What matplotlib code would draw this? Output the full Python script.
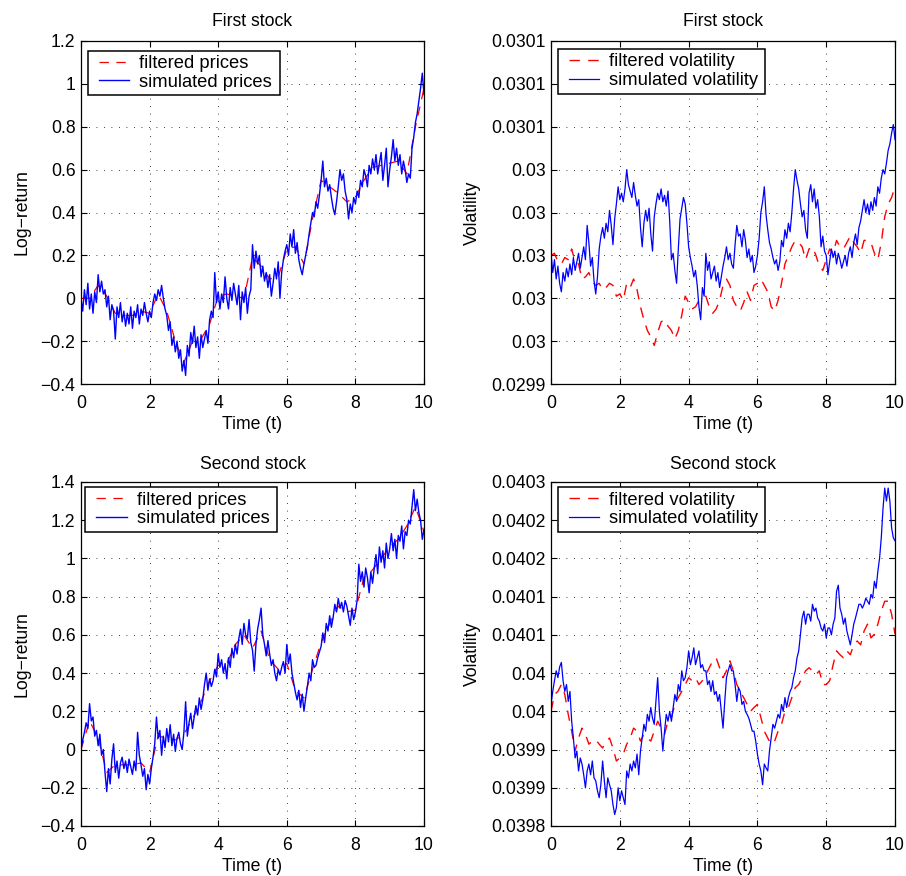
### Filtered vs simulated log-returns and volatility for two stocks
###

import numpy as np
import matplotlib
matplotlib.use("Agg")
import matplotlib.pyplot as plt
from matplotlib.lines import Line2D
from matplotlib.legend_handler import HandlerLine2D

plt.rcParams['font.family'] = ['Liberation Sans', 'DejaVu Sans']
plt.rcParams['font.size'] = 12.7

# ---- data ----
# simulated paths sampled every 0.05, filtered every 0.25 (prices) / 0.1 (volatility)
price1_sim = [
    0.00, -0.06, 0.04, -0.03, 0.07, -0.05, 0.02, -0.07, 0.03, -0.02,
    0.11, 0.03, 0.08, 0.02, 0.04, -0.04, 0.01, -0.10, -0.03, -0.06,
    -0.19, -0.04, -0.09, -0.02, -0.11, -0.06, -0.13, -0.07, -0.12, -0.04,
    -0.14, -0.06, -0.09, -0.03, -0.12, -0.05, -0.08, -0.02, -0.07, -0.11,
    -0.06, -0.09, -0.02, 0.02, -0.01, 0.04, 0.01, 0.06, 0.00, -0.05,
    -0.08, -0.15, -0.11, -0.22, -0.18, -0.25, -0.20, -0.28, -0.24, -0.34,
    -0.29, -0.36, -0.22, -0.27, -0.16, -0.21, -0.13, -0.23, -0.18, -0.28,
    -0.17, -0.23, -0.19, -0.15, -0.21, -0.10, -0.06, -0.09, 0.12, -0.02,
    0.03, -0.05, 0.02, -0.02, 0.10, 0.00, -0.05, 0.05, -0.01, 0.07,
    0.02, -0.03, 0.06, -0.10, 0.03, -0.02, 0.05, -0.07, 0.01, 0.04,
    0.25, 0.14, 0.22, 0.16, 0.20, 0.10, 0.15, 0.08, 0.12, 0.05,
    0.11, 0.01, 0.07, 0.14, 0.09, 0.17, 0.00, 0.12, 0.18, 0.22,
    0.25, 0.20, 0.30, 0.24, 0.32, 0.21, 0.26, 0.18, 0.14, 0.11,
    0.16, 0.20, 0.24, 0.30, 0.35, 0.40, 0.38, 0.45, 0.42, 0.48,
    0.55, 0.64, 0.52, 0.56, 0.50, 0.53, 0.47, 0.42, 0.39, 0.45,
    0.52, 0.60, 0.55, 0.58, 0.50, 0.46, 0.37, 0.44, 0.40, 0.47,
    0.44, 0.50, 0.47, 0.55, 0.52, 0.60, 0.57, 0.52, 0.62, 0.58,
    0.65, 0.60, 0.67, 0.58, 0.63, 0.68, 0.55, 0.62, 0.70, 0.52,
    0.60, 0.66, 0.74, 0.64, 0.70, 0.62, 0.67, 0.58, 0.64, 0.60,
    0.54, 0.58, 0.56, 0.70, 0.75, 0.82, 0.86, 0.92, 0.98, 1.05,
    0.95,
]
price1_filt = [
    0.00, 0.00, 0.06, 0.01, -0.07, -0.08, -0.08, -0.06, -0.07, 0.02,
    -0.06, -0.20, -0.30, -0.20, -0.19, -0.12, 0.01, 0.02, 0.01, 0.00,
    0.19, 0.15, 0.09, 0.10, 0.23, 0.24, 0.16, 0.37, 0.55, 0.52,
    0.49, 0.45, 0.47, 0.55, 0.61, 0.62, 0.63, 0.64, 0.58, 0.80,
    0.98,
]

price2_sim = [
    0.00, 0.05, 0.09, 0.14, 0.11, 0.24, 0.15, 0.17, 0.07, 0.10,
    0.02, 0.08, -0.03, 0.00, -0.12, -0.22, -0.10, -0.18, -0.05, 0.03,
    -0.12, -0.06, -0.15, -0.07, -0.04, -0.10, -0.06, -0.12, -0.05, -0.09,
    -0.13, -0.06, -0.11, 0.09, -0.03, -0.08, -0.14, -0.10, -0.21, -0.13,
    -0.18, -0.10, -0.04, 0.03, 0.17, 0.06, 0.10, -0.03, 0.07, 0.01,
    0.11, 0.04, 0.13, 0.02, 0.08, -0.01, 0.06, 0.09, 0.03, 0.00,
    0.09, 0.25, 0.07, 0.14, 0.19, 0.11, 0.17, 0.23, 0.18, 0.27,
    0.21, 0.26, 0.34, 0.40, 0.31, 0.37, 0.33, 0.36, 0.42, 0.38,
    0.50, 0.43, 0.47, 0.40, 0.45, 0.37, 0.48, 0.43, 0.53, 0.48,
    0.55, 0.50, 0.58, 0.63, 0.55, 0.66, 0.60, 0.58, 0.68, 0.56,
    0.52, 0.41, 0.55, 0.63, 0.68, 0.74, 0.60, 0.55, 0.49, 0.57,
    0.50, 0.44, 0.47, 0.40, 0.36, 0.42, 0.39, 0.43, 0.46, 0.40,
    0.55, 0.45, 0.50, 0.40, 0.35, 0.30, 0.26, 0.31, 0.22, 0.29,
    0.20, 0.27, 0.33, 0.40, 0.36, 0.47, 0.43, 0.44, 0.48, 0.51,
    0.54, 0.61, 0.56, 0.66, 0.62, 0.70, 0.64, 0.69, 0.76, 0.72,
    0.79, 0.74, 0.77, 0.72, 0.78, 0.75, 0.70, 0.65, 0.74, 0.68,
    0.72, 0.78, 0.97, 0.88, 0.93, 0.85, 0.95, 0.90, 0.82, 0.93,
    0.87, 0.95, 1.02, 0.92, 1.06, 0.98, 1.04, 0.95, 1.08, 1.00,
    1.05, 1.13, 1.04, 1.10, 1.00, 1.12, 1.09, 1.17, 1.05, 1.14,
    1.12, 1.20, 1.18, 1.27, 1.36, 1.25, 1.31, 1.24, 1.20, 1.10,
    1.15,
]
price2_filt = [
    0.00, 0.15, 0.06, -0.12, -0.08, -0.08, -0.08, -0.07, -0.12, 0.07,
    0.06, 0.05, 0.08, 0.16, 0.25, 0.36, 0.44, 0.45, 0.55, 0.60,
    0.53, 0.62, 0.47, 0.42, 0.45, 0.31, 0.27, 0.42, 0.56, 0.66,
    0.75, 0.72, 0.73, 0.90, 0.94, 1.00, 1.06, 1.10, 1.17, 1.27,
    1.14,
]

vol1_sim = [
    0.030001, 0.029992, 0.029998, 0.029989, 0.029995, 0.029987, 0.029983, 0.029992, 0.029988, 0.029994,
    0.029990, 0.029996, 0.029991, 0.029999, 0.029993, 0.029997, 0.030001, 0.029994, 0.029999, 0.030004,
    0.029998, 0.030014, 0.030006, 0.029995, 0.029999, 0.029988, 0.029982, 0.029990, 0.030003, 0.030009,
    0.030013, 0.030008, 0.030015, 0.030011, 0.030021, 0.030014, 0.030005, 0.030017, 0.030024, 0.030032,
    0.030026, 0.030029, 0.030025, 0.030031, 0.030040, 0.030033, 0.030030, 0.030027, 0.030034, 0.030028,
    0.030023, 0.030026, 0.030013, 0.030004, 0.030015, 0.030021, 0.030016, 0.030022, 0.030010, 0.030002,
    0.030018, 0.030024, 0.030029, 0.030026, 0.030031, 0.030025, 0.030028, 0.030023, 0.030030, 0.030016,
    0.029998, 0.030001, 0.029993, 0.029987, 0.030003, 0.030017, 0.030022, 0.030027, 0.030024, 0.030015,
    0.030004, 0.029999, 0.029995, 0.029990, 0.029993, 0.029986, 0.029976, 0.029970, 0.029985, 0.029981,
    0.030001, 0.029993, 0.029997, 0.029989, 0.029992, 0.029995, 0.029988, 0.029992, 0.029985, 0.029990,
    0.029995, 0.029999, 0.030004, 0.029998, 0.030001, 0.029996, 0.029994, 0.030005, 0.030014, 0.030009,
    0.030010, 0.030004, 0.030012, 0.030007, 0.029999, 0.030003, 0.029997, 0.030000, 0.029992, 0.029995,
    0.030000, 0.030008, 0.030020, 0.030025, 0.030032, 0.030019, 0.030012, 0.030006, 0.030003, 0.029999,
    0.029996, 0.029998, 0.029993, 0.029997, 0.030007, 0.030004, 0.030012, 0.030008, 0.030015, 0.030011,
    0.030020, 0.030031, 0.030040, 0.030035, 0.030031, 0.030024, 0.030018, 0.030021, 0.030012, 0.030008,
    0.030029, 0.030033, 0.030025, 0.030031, 0.030022, 0.030026, 0.030018, 0.030004, 0.030009, 0.030002,
    0.030000, 0.029991, 0.029997, 0.030003, 0.029999, 0.030002, 0.029996, 0.030001, 0.029998, 0.029994,
    0.029997, 0.030000, 0.029995, 0.030001, 0.030004, 0.029999, 0.030006, 0.030010, 0.030005, 0.030013,
    0.030016, 0.030021, 0.030026, 0.030020, 0.030024, 0.030019, 0.030025, 0.030021, 0.030027, 0.030023,
    0.030032, 0.030029, 0.030036, 0.030040, 0.030038, 0.030043, 0.030049, 0.030052, 0.030057, 0.030061,
    0.030054,
]
vol1_filt = [
    0.030000, 0.030001, 0.029997, 0.029996, 0.029999, 0.029998, 0.030003, 0.029997, 0.029996, 0.029989,
    0.029990, 0.029992, 0.029988, 0.029986, 0.029987, 0.029984, 0.029985, 0.029987, 0.029986, 0.029981,
    0.029982, 0.029979, 0.029987, 0.029985, 0.029989, 0.029984, 0.029976, 0.029970, 0.029965, 0.029962,
    0.029958, 0.029964, 0.029969, 0.029970, 0.029967, 0.029965, 0.029961, 0.029965, 0.029972, 0.029981,
    0.029978, 0.029975, 0.029976, 0.029979, 0.029980, 0.029981, 0.029976, 0.029973, 0.029975, 0.029979,
    0.029986, 0.029989, 0.029986, 0.029979, 0.029976, 0.029974, 0.029978, 0.029983, 0.029979, 0.029986,
    0.029987, 0.029989, 0.029986, 0.029983, 0.029976, 0.029974, 0.029979, 0.029987, 0.029996, 0.030000,
    0.030004, 0.030007, 0.030006, 0.030004, 0.029998, 0.030003, 0.030004, 0.030000, 0.029995, 0.029993,
    0.029998, 0.030003, 0.030001, 0.030007, 0.030004, 0.030003, 0.030006, 0.030009, 0.030006, 0.030004,
    0.030001, 0.030007, 0.030007, 0.030006, 0.030001, 0.029998, 0.030006, 0.030018, 0.030024, 0.030027,
    0.030032,
]

vol2_sim = [
    0.039959, 0.039976, 0.039990, 0.040003, 0.039994, 0.040008, 0.040014, 0.039990, 0.039976, 0.039985,
    0.039963, 0.039976, 0.039937, 0.039915, 0.039889, 0.039898, 0.039872, 0.039889, 0.039881, 0.039867,
    0.039850, 0.039872, 0.039881, 0.039867, 0.039885, 0.039863, 0.039859, 0.039846, 0.039837, 0.039855,
    0.039885, 0.039859, 0.039837, 0.039863, 0.039854, 0.039846, 0.039828, 0.039815, 0.039824, 0.039850,
    0.039833, 0.039846, 0.039837, 0.039828, 0.039872, 0.039863, 0.039881, 0.039872, 0.039885, 0.039876,
    0.039894, 0.039867, 0.039898, 0.039915, 0.039933, 0.039924, 0.039946, 0.039937, 0.039955, 0.039941,
    0.039933, 0.039963, 0.039994, 0.039950, 0.039928, 0.039898, 0.039924, 0.039946, 0.039937, 0.039950,
    0.039937, 0.039955, 0.039972, 0.039963, 0.039985, 0.039976, 0.040003, 0.039990, 0.039994, 0.040007,
    0.040029, 0.040011, 0.040020, 0.040033, 0.040011, 0.040020, 0.040029, 0.040007, 0.040011, 0.040003,
    0.040003, 0.039985, 0.039990, 0.039976, 0.039990, 0.039972, 0.039976, 0.039963, 0.039972, 0.039950,
    0.039928, 0.039963, 0.039994, 0.040003, 0.040011, 0.040003, 0.040003, 0.039985, 0.039963, 0.039981,
    0.039976, 0.039959, 0.039963, 0.039950, 0.039946, 0.039941, 0.039933, 0.039924, 0.039924, 0.039911,
    0.039894, 0.039881, 0.039872, 0.039854, 0.039881, 0.039876, 0.039872, 0.039898, 0.039915, 0.039933,
    0.039928, 0.039937, 0.039946, 0.039941, 0.039959, 0.039950, 0.039968, 0.039955, 0.039968, 0.039976,
    0.039981, 0.039994, 0.040003, 0.040020, 0.040029, 0.040050, 0.040072, 0.040081, 0.040064, 0.040077,
    0.040077, 0.040068, 0.040090, 0.040081, 0.040085, 0.040072, 0.040068, 0.040059, 0.040055, 0.040064,
    0.040046, 0.040059, 0.040059, 0.040050, 0.040064, 0.040072, 0.040107, 0.040115, 0.040085, 0.040077,
    0.040064, 0.040072, 0.040055, 0.040046, 0.040037, 0.040050, 0.040064, 0.040072, 0.040081, 0.040090,
    0.040090, 0.040085, 0.040090, 0.040098, 0.040094, 0.040090, 0.040103, 0.040098, 0.040120, 0.040111,
    0.040133, 0.040150, 0.040177, 0.040215, 0.040242, 0.040225, 0.040242, 0.040225, 0.040190, 0.040177,
    0.040173,
]
vol2_filt = [
    0.039950, 0.039972, 0.039976, 0.039985, 0.039972, 0.039946, 0.039924, 0.039898, 0.039915, 0.039928,
    0.039920, 0.039907, 0.039911, 0.039913, 0.039907, 0.039902, 0.039911, 0.039915, 0.039902, 0.039885,
    0.039889, 0.039894, 0.039907, 0.039915, 0.039928, 0.039924, 0.039911, 0.039920, 0.039915, 0.039911,
    0.039924, 0.039937, 0.039928, 0.039920, 0.039937, 0.039942, 0.039959, 0.039968, 0.039976, 0.039985,
    0.039994, 0.039990, 0.039994, 0.039985, 0.039990, 0.039998, 0.040007, 0.040016, 0.040020, 0.040007,
    0.039994, 0.040003, 0.040016, 0.040003, 0.039985, 0.039976, 0.039968, 0.039959, 0.039950, 0.039955,
    0.039959, 0.039942, 0.039924, 0.039915, 0.039907, 0.039911, 0.039924, 0.039933, 0.039950, 0.039955,
    0.039968, 0.039981, 0.039985, 0.039994, 0.040003, 0.040007, 0.040003, 0.039998, 0.040003, 0.039985,
    0.039985, 0.039990, 0.040011, 0.040029, 0.040024, 0.040020, 0.040029, 0.040024, 0.040037, 0.040042,
    0.040037, 0.040055, 0.040064, 0.040046, 0.040051, 0.040064, 0.040081, 0.040094, 0.040094, 0.040077,
    0.040051,
]

x_ticks = [0, 2, 4, 6, 8, 10]
x_ticklabels = ['0', '2', '4', '6', '8', '10']
price1_yticks = [-0.4, -0.2, 0, 0.2, 0.4, 0.6, 0.8, 1.0, 1.2]
price1_ylabels = ['\u22120.4', '\u22120.2', '0', '0.2', '0.4', '0.6', '0.8', '1', '1.2']
price2_yticks = [-0.4, -0.2, 0, 0.2, 0.4, 0.6, 0.8, 1.0, 1.2, 1.4]
price2_ylabels = ['\u22120.4', '\u22120.2', '0', '0.2', '0.4', '0.6', '0.8', '1', '1.2', '1.4']
vol1_yticks = [0.02994, 0.02996, 0.02998, 0.03, 0.03002, 0.03004, 0.03006, 0.03008, 0.0301]
vol1_ylabels = ['0.0299', '0.03', '0.03', '0.03', '0.03', '0.03', '0.0301', '0.0301', '0.0301']
vol2_yticks = [0.0398, 0.03985, 0.0399, 0.03995, 0.04, 0.04005, 0.0401, 0.04015, 0.0402, 0.04025]
vol2_ylabels = ['0.0398', '0.0399', '0.0399', '0.04', '0.04', '0.0401', '0.0401', '0.0402', '0.0402', '0.0403']


def style_axes(ax, yticks, ylabels, ylabel, title, leg_box, title_pad):
    ax.set_xlim(0, 10)
    ax.set_ylim(yticks[0], yticks[-1])
    ax.set_xticks(x_ticks)
    ax.set_xticklabels(x_ticklabels)
    ax.set_yticks(yticks)
    ax.set_yticklabels(ylabels)
    ax.tick_params(direction='in', length=4, width=0.8, top=True, right=True)
    ax.tick_params(axis='x', pad=8)
    ax.tick_params(axis='y', pad=4)
    ax.grid(True, color='black', linewidth=0.6, linestyle=(0, (1, 8)))
    for sp in ax.spines.values():
        sp.set_linewidth(0.9)
    ax.set_xlabel("Time (t)", labelpad=3)
    ax.set_ylabel(ylabel, labelpad=7)
    ax.set_title(title, fontsize=12.7, pad=title_pad)
    leg = ax.legend(loc='upper left', bbox_to_anchor=leg_box, mode='expand',
                    fancybox=False, framealpha=1, edgecolor='black', fontsize=13.2,
                    borderaxespad=0, handlelength=2.0, handletextpad=0.55,
                    labelspacing=0.08, borderpad=0.25,
                    handler_map={Line2D: HandlerLine2D(xpad=0.35)})
    leg.get_frame().set_linewidth(1.1)


fig = plt.figure(figsize=(9.06, 8.76), dpi=100)
ax1 = fig.add_axes([0.0894, 0.5616, 0.3786, 0.3916])
ax2 = fig.add_axes([0.6082, 0.5616, 0.3797, 0.3916])
ax3 = fig.add_axes([0.0894, 0.0571, 0.3786, 0.3927])
ax4 = fig.add_axes([0.6082, 0.0571, 0.3797, 0.3927])

t_sim = np.linspace(0, 10, len(price1_sim))
t_pf = np.linspace(0, 10, len(price1_filt))
t_vf = np.linspace(0, 10, len(vol1_filt))

dash = (0, (7.5, 6))

ax1.plot(t_pf, price1_filt, color='red', linestyle=dash, linewidth=0.9, label='filtered prices')
ax1.plot(t_sim, price1_sim, color='blue', linewidth=1.0, label='simulated prices')
style_axes(ax1, price1_yticks, price1_ylabels, "Log\u2212return", "First stock",
           (0.02, 0.0, 0.56, 0.972), 10.5)

ax2.plot(t_vf, vol1_filt, color='red', linestyle=dash, linewidth=1.0, label='filtered volatility')
ax2.plot(t_sim, vol1_sim, color='blue', linewidth=0.9, label='simulated volatility')
style_axes(ax2, vol1_yticks, vol1_ylabels, "Volatility", "First stock",
           (0.0195, 0.0, 0.602, 0.977), 10.5)

ax3.plot(t_pf, price2_filt, color='red', linestyle=dash, linewidth=0.9, label='filtered prices')
ax3.plot(t_sim, price2_sim, color='blue', linewidth=1.0, label='simulated prices')
style_axes(ax3, price2_yticks, price2_ylabels, "Log\u2212return", "Second stock",
           (0.0125, 0.0, 0.558, 0.985), 9.5)

ax4.plot(t_vf, vol2_filt, color='red', linestyle=dash, linewidth=1.0, label='filtered volatility')
ax4.plot(t_sim, vol2_sim, color='blue', linewidth=0.9, label='simulated volatility')
style_axes(ax4, vol2_yticks, vol2_ylabels, "Volatility", "Second stock",
           (0.0195, 0.0, 0.602, 0.985), 9.5)

plt.savefig("out.png", dpi=100)
